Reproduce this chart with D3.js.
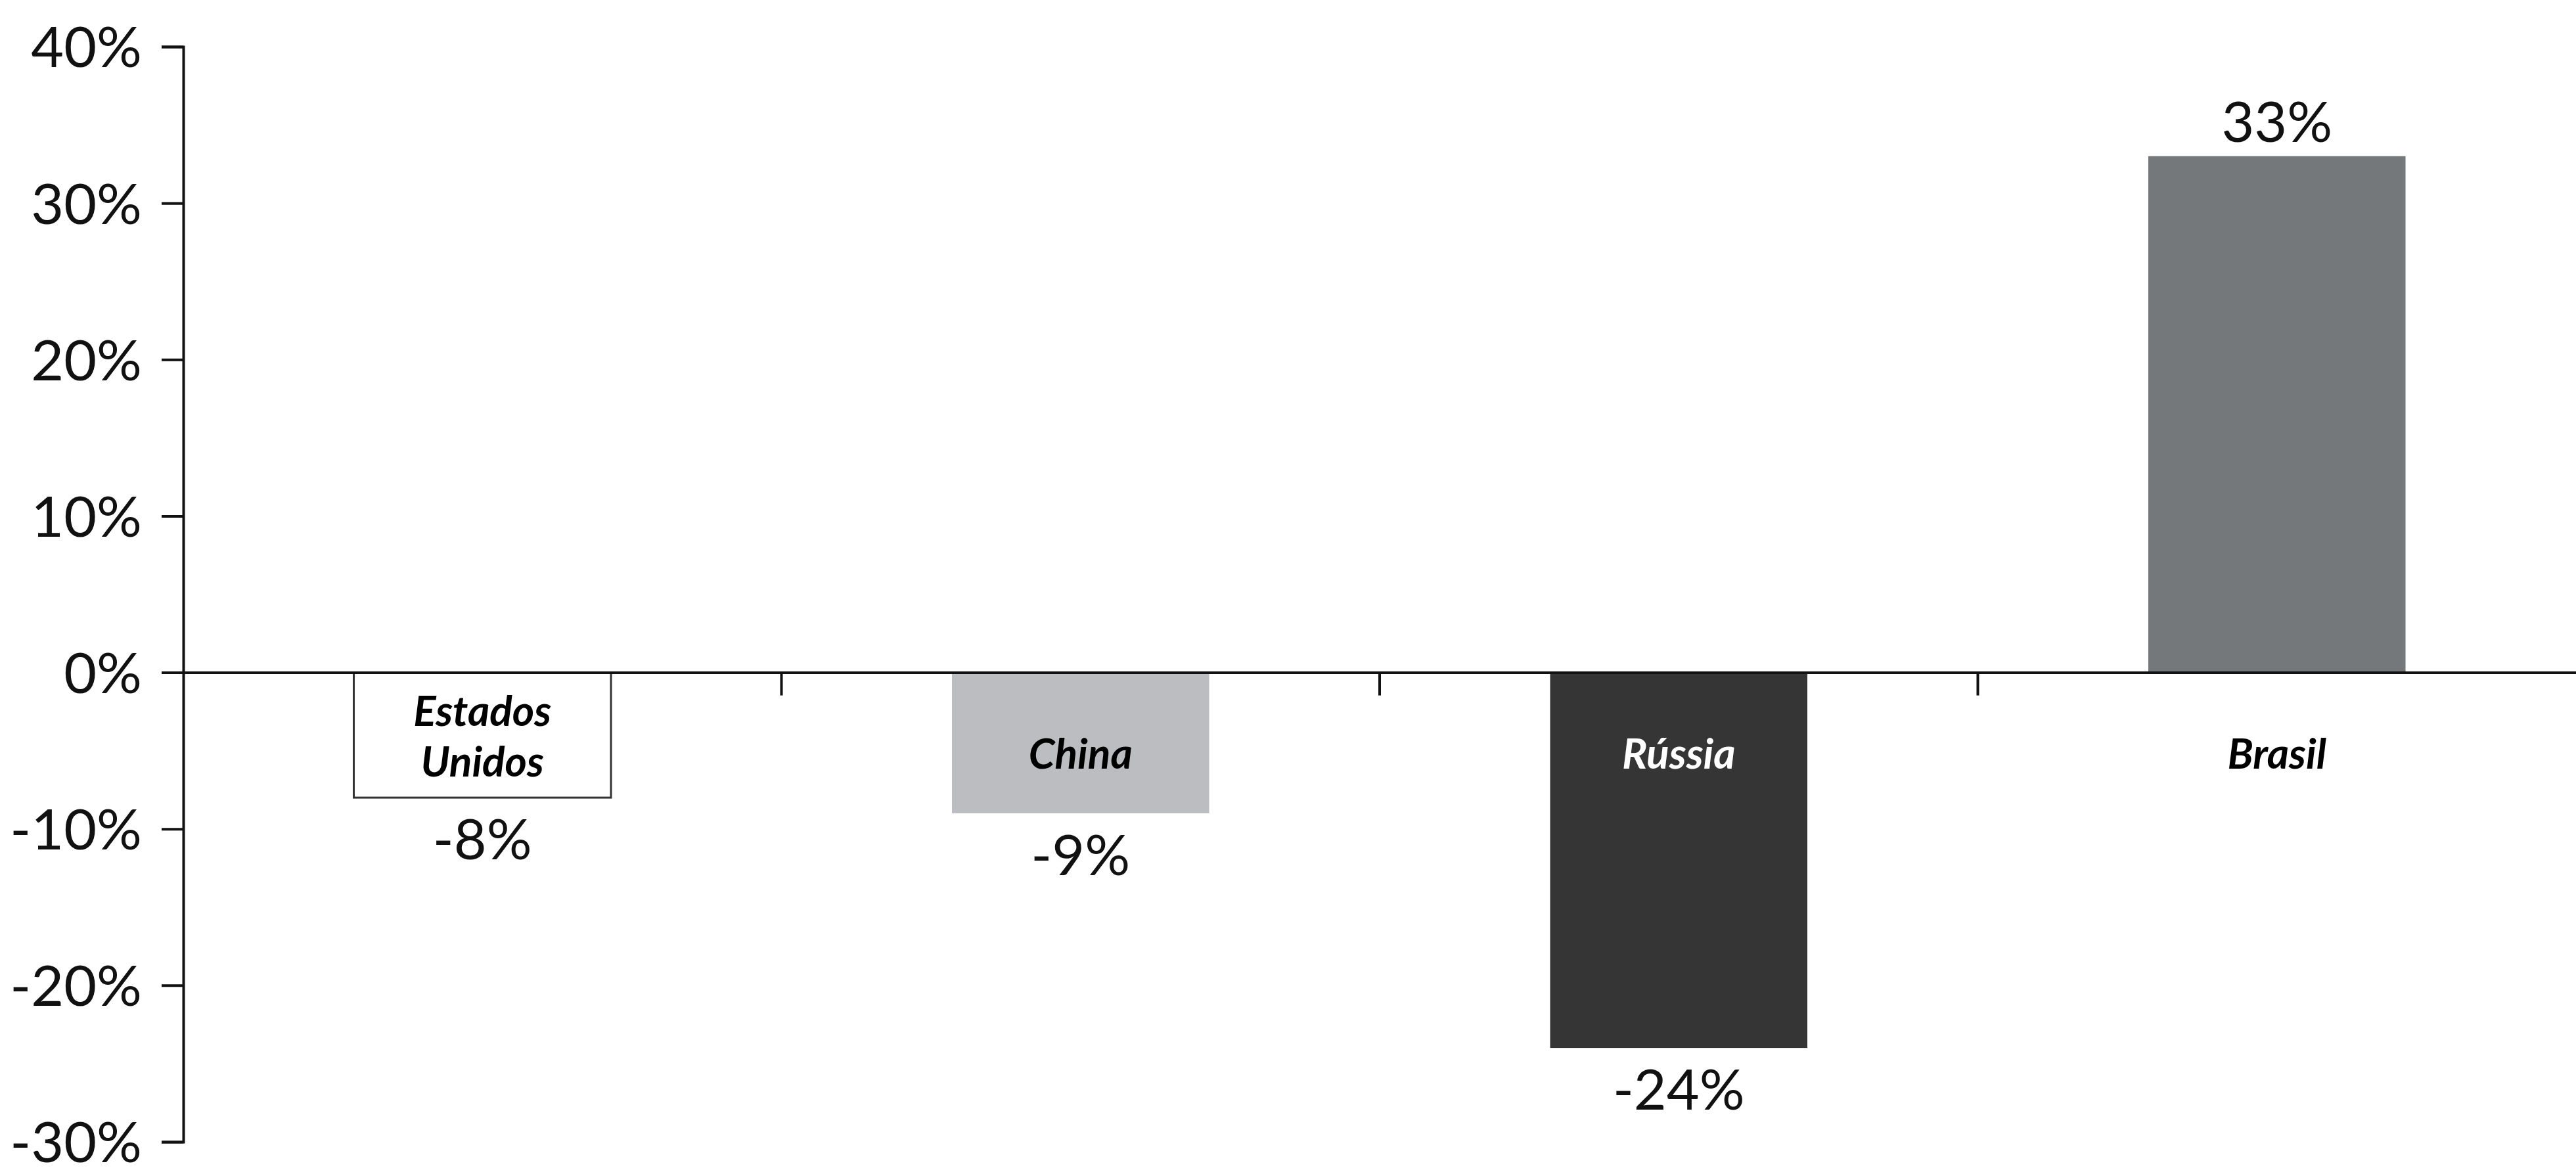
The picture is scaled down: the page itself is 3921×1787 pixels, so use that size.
<!DOCTYPE html>
<html lang="pt">
<head>
	<meta charset="utf-8">
	<title>Variação por país</title>
	<script type="text/javascript" src="https://cdn.jsdelivr.net/npm/d3@7"></script>
	<style type="text/css">
		html, body { margin: 0; padding: 0; background: #fff; }
		svg { display: block; }
	</style>
</head>
<body>
	<script type="text/javascript">

		// chart data
		var countries = ["Estados Unidos", "China", "Rússia", "Brasil"];
		var changes = [-8, -9, -24, 33];
		var barColors = ["#ffffff", "#bcbdc0", "#353535", "#75787b"];
		var nameColors = ["#000000", "#000000", "#ffffff", "#000000"];
		var yTicks = [40, 30, 20, 10, 0, -10, -20, -30];

		var width = 3921, height = 1787;
		var margin = {top: 71, right: 0, bottom: 49, left: 279};

		var svg = d3.select("body")
			.append("svg")
			.attr("width", width)
			.attr("height", height);

		var x = d3.scaleBand()
			.domain(countries)
			.range([margin.left, width - margin.right])
			.paddingInner(0.57)
			.paddingOuter(0.285);

		var y = d3.scaleLinear()
			.domain([-30, 40])
			.range([height - margin.bottom, margin.top]);

		var font = "Lato, 'Open Sans', sans-serif";

		// bars
		svg.selectAll(".bar")
			.data(countries)
			.enter()
			.append("rect")
			.attr("class", "bar")
			.attr("x", function(d) { return x(d); })
			.attr("width", x.bandwidth())
			.attr("y", function(d, i) { return y(Math.max(0, changes[i])); })
			.attr("height", function(d, i) { return Math.abs(y(changes[i]) - y(0)); })
			.attr("fill", function(d, i) { return barColors[i]; })
			.attr("stroke", function(d, i) { return i === 0 ? "#333" : "none"; })
			.attr("stroke-width", 3);

		// y axis
		var yAxis = svg.append("g")
			.attr("transform", "translate(" + margin.left + ",0)")
			.call(d3.axisLeft(y)
				.tickValues(yTicks)
				.tickSize(33)
				.tickSizeOuter(33)
				.tickPadding(30)
				.tickFormat(function(d) { return d + "%"; }));

		yAxis.select(".domain").attr("stroke", "#111").attr("stroke-width", 4);
		yAxis.selectAll(".tick line").attr("stroke", "#111").attr("stroke-width", 4);
		yAxis.selectAll(".tick text")
			.attr("font-family", font)
			.attr("font-size", 86)
			.attr("fill", "#111")
			.attr("dy", "0.36em");

		// zero line with category separators
		var xAxis = svg.append("g")
			.attr("transform", "translate(0," + y(0) + ")")
			.call(d3.axisBottom(x)
				.tickSize(0)
				.tickSizeOuter(0)
				.tickFormat(""));

		xAxis.select(".domain").attr("stroke", "#111").attr("stroke-width", 4);
		xAxis.selectAll(".tick").remove();

		xAxis.selectAll(".sep")
			.data(countries.slice(1))
			.enter()
			.append("line")
			.attr("class", "sep")
			.attr("x1", function(d) { return x(d) - x.step() * x.paddingInner() / 2; })
			.attr("x2", function(d) { return x(d) - x.step() * x.paddingInner() / 2; })
			.attr("y1", 0)
			.attr("y2", 35)
			.attr("stroke", "#111")
			.attr("stroke-width", 4);

		// country names under the zero line
		var names = svg.selectAll(".name")
			.data(countries)
			.enter()
			.append("text")
			.attr("class", "name")
			.attr("text-anchor", "middle")
			.attr("font-family", font)
			.attr("font-weight", "bold")
			.attr("font-style", "italic")
			.attr("font-size", 64)
			.attr("fill", function(d, i) { return nameColors[i]; });

		names.each(function(d) {
			var words = d.split(" ");
			var cx = x(d) + x.bandwidth() / 2;
			var lineGap = 77;
			var base = words.length > 1 ? y(0) + 120 - (words.length - 1) * lineGap / 2 : y(0) + 146;
			d3.select(this).selectAll("tspan")
				.data(words)
				.enter()
				.append("tspan")
				.attr("x", cx)
				.attr("y", function(w, j) { return base + j * lineGap; })
				.text(function(w) { return w; });
		});

		// value labels
		svg.selectAll(".value")
			.data(countries)
			.enter()
			.append("text")
			.attr("class", "value")
			.attr("text-anchor", "middle")
			.attr("font-family", font)
			.attr("font-size", 86)
			.attr("fill", "#111")
			.attr("x", function(d) { return x(d) + x.bandwidth() / 2; })
			.attr("y", function(d, i) {
				return changes[i] < 0 ? y(changes[i]) + 94 : y(changes[i]) - 22;
			})
			.text(function(d, i) { return changes[i] + "%"; });

	</script>
</body>
</html>
